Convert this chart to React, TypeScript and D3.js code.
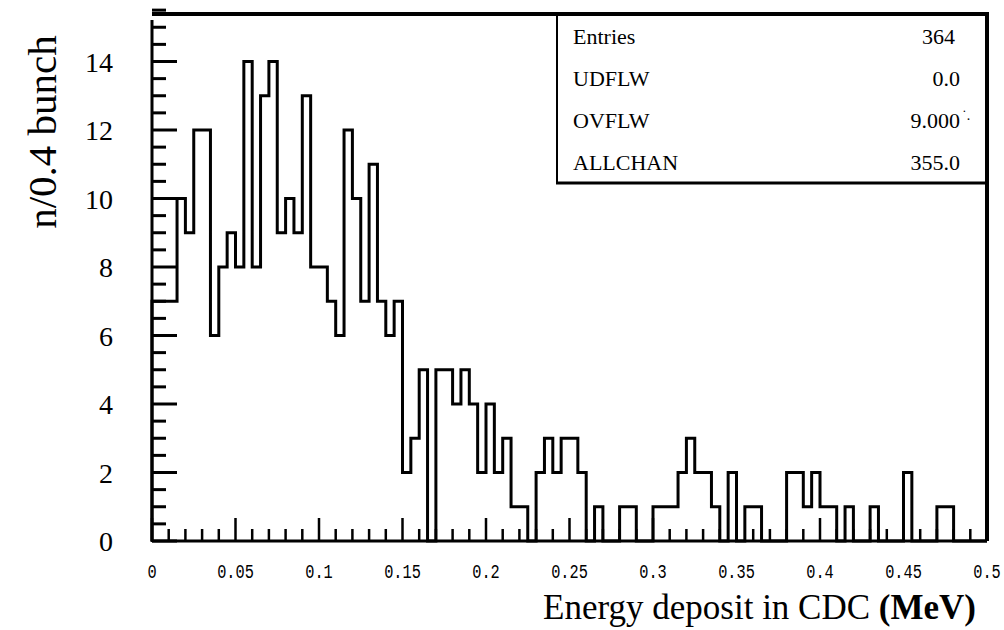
import React from "react";
import * as d3 from "d3";

// Histogram: 100 bins of 0.005 MeV from 0 to 0.5
const binWidth = 0.005;
const counts: number[] = [
  7, 7, 7, 10, 9, 12, 12, 6, 8, 9,
  8, 14, 8, 13, 14, 9, 10, 9, 13, 8,
  8, 7, 6, 12, 10, 7, 11, 7, 6, 7,
  2, 3, 5, 0, 5, 5, 4, 5, 4, 2,
  4, 2, 3, 1, 1, 0, 2, 3, 2, 3,
  3, 2, 0, 1, 0, 0, 1, 1, 0, 0,
  1, 1, 1, 2, 3, 2, 2, 1, 0, 2,
  0, 1, 1, 0, 0, 0, 2, 2, 1, 2,
  1, 1, 0, 1, 0, 0, 1, 0, 0, 0,
  2, 0, 0, 0, 1, 1, 0, 0, 0, 0,
];

const xTickLabels = ["0", "0.05", "0.1", "0.15", "0.2", "0.25", "0.3", "0.35", "0.4", "0.45", "0.5"];
const yTickLabels = ["0", "2", "4", "6", "8", "10", "12", "14"];

const statNames = ["Entries", "UDFLW", "OVFLW", "ALLCHAN"];
const statValues = ["364", "0.0", "9.000", "355.0"];

const W = 1004;
const H = 630;
const left = 152;
const right = 987;
const bottom = 541;
const top = 14;

export default function App() {
  const x = d3.scaleLinear().domain([0, 0.5]).range([left, right]);
  const y = d3.scaleLinear().domain([0, 14]).range([bottom, bottom - 14 * 34.25]);

  const pts: [number, number][] = counts.map((c, i) => [i * binWidth, c]);
  pts.push([counts.length * binWidth, counts[counts.length - 1]]);
  const line = d3
    .line<[number, number]>()
    .x((d) => x(d[0]))
    .y((d) => y(d[1]))
    .curve(d3.curveStepAfter);
  const first: [number, number][] = [[0, 0]];
  const last: [number, number][] = [[counts.length * binWidth, 0]];
  const histPath = line([...first, ...pts, ...last]) || "";

  const xMinor = d3.range(0, 51).map((i) => i * 0.01);
  const yMinor = d3.range(0, 32).map((i) => i * 0.5);

  const serif = "'Liberation Serif', 'Times New Roman', serif";
  const mono = "'Liberation Mono', 'DejaVu Sans Mono', monospace";

  return (
    <svg width={W} height={H} style={{ position: "absolute", left: 0, top: 0, background: "#fff" }}>
      <rect x={0} y={0} width={W} height={H} fill="#fff" />
      {/* top border */}
      <line x1={left} x2={right + 2} y1={top} y2={top} stroke="#000" strokeWidth={4} />
      {/* right border */}
      <line x1={right} x2={right} y1={top} y2={bottom} stroke="#000" strokeWidth={4} />
      {/* y axis */}
      <line x1={left} x2={left} y1={20} y2={bottom + 1} stroke="#000" strokeWidth={3} />
      {/* x axis */}
      <line x1={left} x2={right} y1={bottom} y2={bottom} stroke="#000" strokeWidth={3} />

      {/* y ticks */}
      {yMinor.map((v, i) => {
        const major = i % 4 === 0;
        return (
          <line key={"yt" + i} x1={left} x2={left + (major ? 25 : 14)} y1={y(v)} y2={y(v)} stroke="#000" strokeWidth={3} />
        );
      })}
      {/* x ticks */}
      {xMinor.map((v, i) => {
        const major = i % 5 === 0;
        return (
          <line key={"xt" + i} x1={x(v)} x2={x(v)} y1={bottom} y2={bottom - (major ? 23 : 12)} stroke="#000" strokeWidth={2.5} />
        );
      })}

      {/* histogram */}
      <path d={histPath} fill="none" stroke="#000" strokeWidth={3} strokeLinejoin="miter" />

      {/* y tick labels */}
      {yTickLabels.map((t) => (
        <text key={"yl" + t} x={113} y={y(+t) + 10} textAnchor="end" fontFamily={serif} fontSize={28} fill="#000">
          {t}
        </text>
      ))}
      {/* x tick labels */}
      {xTickLabels.map((t) => (
        <text
          key={"xl" + t}
          transform={`translate(${x(+t)},578) scale(0.85,1.15)`}
          textAnchor="middle"
          fontFamily={mono}
          fontSize={18}
          fill="#000"
        >
          {t}
        </text>
      ))}

      {/* axis titles */}
      <text transform={`translate(56,132) rotate(-90)`} textAnchor="middle" fontFamily={serif} fontSize={41} fill="#000">
        n/0.4 bunch
      </text>
      <text x={976} y={619} textAnchor="end" fontFamily={serif} fontSize={35} fill="#000">
        Energy deposit in CDC <tspan fontWeight="bold">(MeV)</tspan>
      </text>

      {/* stats box */}
      <line x1={557} x2={557} y1={top} y2={183} stroke="#000" strokeWidth={2} />
      <line x1={556} x2={right} y1={183} y2={183} stroke="#000" strokeWidth={3} />
      {statNames.map((n, i) => (
        <text key={"sn" + n} x={573} y={44 + i * 42} fontFamily={serif} fontSize={22} fill="#000">
          {n}
        </text>
      ))}
      {statValues.map((v, i) => (
        <text key={"sv" + i} x={i === 0 ? 955 : 960} y={44 + i * 42} textAnchor="end" fontFamily={serif} fontSize={22} fill="#000">
          {v}
        </text>
      ))}
      <text x={962} y={120} fontFamily={serif} fontSize={14} fill="#000">˙.</text>
    </svg>
  );
}
